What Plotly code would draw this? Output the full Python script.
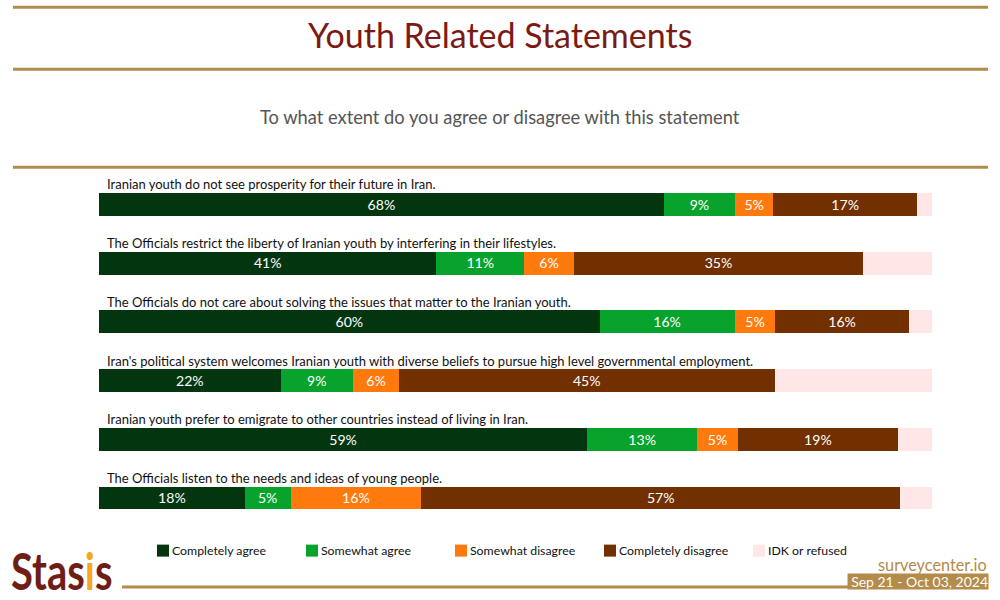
import plotly.graph_objects as go

statements = [
    "Iranian youth do not see prosperity for their future in Iran.",
    "The Officials restrict the liberty of Iranian youth by interfering in their lifestyles.",
    "The Officials do not care about solving the issues that matter to the Iranian youth.",
    "Iran's political system welcomes Iranian youth with diverse beliefs to pursue high level governmental employment.",
    "Iranian youth prefer to emigrate to other countries instead of living in Iran.",
    "The Officials listen to the needs and ideas of young people.",
]
completely_agree = [67.8, 40.51, 60.1, 21.8, 58.6, 17.5]
somewhat_agree = [8.55, 10.51, 16.2, 8.7, 13.2, 5.49]
somewhat_disagree = [4.6, 6.0, 4.9, 5.5, 4.9, 15.7]
completely_disagree = [17.25, 34.7, 16.0, 45.1, 19.2, 57.49]
idk_refused = [1.8, 8.28, 2.8, 18.9, 4.1, 3.82]

series = [
    ("Completely agree", completely_agree, "#03360F", True),
    ("Somewhat agree", somewhat_agree, "#08A32C", True),
    ("Somewhat disagree", somewhat_disagree, "#FF7A0C", True),
    ("Completely disagree", completely_disagree, "#722F00", True),
    ("IDK or refused", idk_refused, "#FFE7E7", False),
]

W, H = 1000, 600
FONT = "Lato"
GOLD = "#B38B4A"

fig = go.Figure()

for name, values, color, labelled in series:
    fig.add_trace(go.Bar(
        y=statements,
        x=values,
        name=name,
        orientation="h",
        marker=dict(color=color, line=dict(width=0)),
        text=[f"{v:.0f}%" for v in values] if labelled else None,
        textposition="inside" if labelled else "none",
        insidetextanchor="middle",
        textangle=0,
        insidetextfont=dict(color="white", size=17.5, family=FONT),
    ))

for s in statements:
    fig.add_annotation(xref="x", yref="y", x=0.75, y=s, yshift=20, text=s, showarrow=False,
                       xanchor="left", yanchor="middle",
                       font=dict(size=13, color="#111111", family=FONT))


def hline(y, x0, x1):
    fig.add_shape(type="line", xref="paper", yref="paper",
                  x0=(x0 - 99) / 833, x1=(x1 - 99) / 833,
                  y0=(528 - y) / 353, y1=(528 - y) / 353,
                  line=dict(color=GOLD, width=3))


hline(7.3, 13, 988)
hline(69.3, 13, 988)
hline(167.3, 13, 988)
hline(587, 122, 850)


def page_text(text, x, y, size, color, anchor="center", **kw):
    fig.add_annotation(xref="paper", yref="paper",
                       x=(x - 99) / 833, y=(528 - y) / 353,
                       text=text, showarrow=False, xanchor=anchor, yanchor="middle",
                       borderpad=0,
                       font=dict(size=size, color=color, family=FONT), **kw)


page_text("Youth Related Statements", 500, 34.5, 34, "#7B1A14")
page_text("To what extent do you agree or disagree with this statement", 500, 117, 18.3, "#555555")
page_text("surveycenter.io", 988, 564, 16.3, GOLD, anchor="right")
page_text("Sep 21 - Oct 03, 2024", 988.5, 581, 14, "white", anchor="right",
          bgcolor=GOLD, width=140, height=15, align="right")
page_text("<b>Stas<span style='color:#F5A81C'>i</span>s</b>", 62, 571, 40, "#6F1D17")

fig.update_layout(
    width=W, height=H,
    autosize=False,
    barmode="stack",
    bargap=0.61,
    plot_bgcolor="white",
    paper_bgcolor="white",
    margin=dict(l=99, r=68, t=175, b=72, pad=0),
    font=dict(family=FONT),
    showlegend=True,
    legend=dict(orientation="h", x=0.0528, xanchor="left", y=-0.023, yanchor="top",
                entrywidth=104, entrywidthmode="pixels", itemclick=False,
                font=dict(size=12.3, color="#111111", family=FONT), traceorder="normal"),
)
fig.update_xaxes(range=[0, 100], visible=False, fixedrange=True)
fig.update_yaxes(autorange="reversed", visible=False, fixedrange=True)

# page margin off, legend labels pulled in next to their swatches, logo stretched tall
post = """
document.body.style.margin = '0';
document.body.style.overflow = 'hidden';
var gd = document.getElementById('{plot_id}');
function tweak() {
    gd.querySelectorAll('.legendtext').forEach(function (t) { t.setAttribute('x', 29); });
    gd.querySelectorAll('.annotation-text').forEach(function (t) {
        if (t.textContent === 'Stasis') {
            t.style.transformBox = 'fill-box';
            t.style.transformOrigin = 'center';
            t.style.transform = 'scaleY(1.27)';
        }
    });
}
gd.on('plotly_afterplot', tweak);
tweak();
"""
fig.write_html("out.html", config={"displayModeBar": False}, post_script=post)
